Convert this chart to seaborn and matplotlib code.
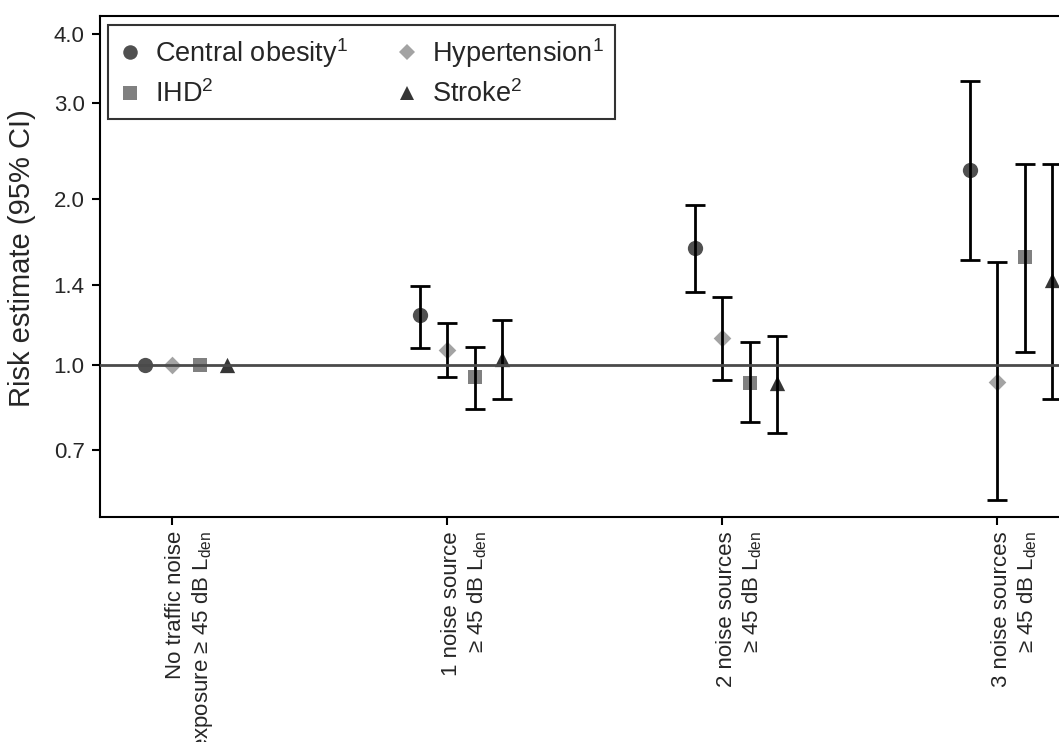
#! /usr/bin/env python3
'''
Risk estimates by number of traffic noise sources
'''

# imports
from matplotlib.lines import Line2D
import matplotlib.pyplot as plt
import numpy as np
import pandas as pd
import seaborn as sns

# data
GROUPS = [
    'No traffic noise\nexposure \u2265 45 dB L$_{\\mathrm{den}}$',
    '1 noise source\n\u2265 45 dB L$_{\\mathrm{den}}$',
    '2 noise sources\n\u2265 45 dB L$_{\\mathrm{den}}$',
    '3 noise sources\n\u2265 45 dB L$_{\\mathrm{den}}$',
]
OUTCOMES = ['Central obesity', 'Hypertension', 'IHD', 'Stroke']
nan = np.nan
central_obesity = [1.00, 1.23, 1.63, 2.26]
central_obesity_lo = [nan, 1.075, 1.356, 1.552]
central_obesity_hi = [nan, 1.394, 1.954, 3.289]
hypertension = [1.00, 1.065, 1.118, 0.932]
hypertension_lo = [nan, 0.950, 0.939, 0.567]
hypertension_hi = [nan, 1.191, 1.329, 1.539]
ihd = [1.00, 0.952, 0.929, 1.570]
ihd_lo = [nan, 0.831, 0.789, 1.057]
ihd_hi = [nan, 1.078, 1.100, 2.320]
stroke = [1.00, 1.025, 0.927, 1.427]
stroke_lo = [nan, 0.867, 0.752, 0.867]
stroke_hi = [nan, 1.209, 1.129, 2.320]
Y_TICKS = [0.7, 1.0, 1.4, 2.0, 3.0, 4.0]

# styles
LABEL = {
    'Central obesity': 'Central obesity$^{1}$',
    'Hypertension': 'Hypertension$^{1}$',
    'IHD': 'IHD$^{2}$',
    'Stroke': 'Stroke$^{2}$',
}
COLOR = {'Central obesity': '#505050', 'Hypertension': '#a3a3a3', 'IHD': '#808080', 'Stroke': '#363636'}
MARKER = {'Central obesity': 'o', 'Hypertension': 'D', 'IHD': 's', 'Stroke': '^'}
SIZE = {'Central obesity': 11, 'Hypertension': 9, 'IHD': 10.5, 'Stroke': 11}
OFFSET = {'Central obesity': -0.1, 'Hypertension': 0.0, 'IHD': 0.1, 'Stroke': 0.2}
LABEL_SHIFT = 0.065  # x tick labels sit a little right of their tick

# configure matplotlib
sns.set_style('ticks')
plt.rcParams['font.family'] = ['Liberation Sans', 'DejaVu Sans']
plt.rcParams['mathtext.fontset'] = 'custom'
plt.rcParams['mathtext.rm'] = 'Liberation Sans'
plt.rcParams['mathtext.it'] = 'Liberation Sans:italic'

if __name__ == "__main__":
    # long table
    series = {
        'Central obesity': (central_obesity, central_obesity_lo, central_obesity_hi),
        'Hypertension': (hypertension, hypertension_lo, hypertension_hi),
        'IHD': (ihd, ihd_lo, ihd_hi),
        'Stroke': (stroke, stroke_lo, stroke_hi),
    }
    rows = list()
    for name in OUTCOMES:
        est, lo, hi = series[name]
        for g in range(len(GROUPS)):
            rows.append({'outcome': name, 'x': g + OFFSET[name], 'est': est[g], 'lo': lo[g], 'hi': hi[g]})
    df = pd.DataFrame(rows)

    fig = plt.figure(figsize=(10.59, 7.42), dpi=100)
    W, H = 1059, 742
    xmin, xmax = -0.262, 3.4
    ax = fig.add_axes([100 / W, (H - 517) / H, (xmax - xmin) * 275 / W, 501 / H])

    for name in OUTCOMES:
        sub = df[df['outcome'] == name]
        sns.scatterplot(data=sub, x='x', y='est', ax=ax, color=COLOR[name], marker=MARKER[name],
                        s=SIZE[name] ** 2, linewidth=0, zorder=3, legend=False)
        ax.errorbar(sub['x'], sub['est'], yerr=[sub['est'] - sub['lo'], sub['hi'] - sub['est']],
                    fmt='none', ecolor='black', elinewidth=2, capsize=7, capthick=2, zorder=4)
    ax.axhline(1.0, color='#4a4a4a', linewidth=2, zorder=5)

    ax.set_yscale('log')
    ax.set_ylim(0.529, 4.31)
    ax.set_xlim(xmin, xmax)
    ax.set_yticks(Y_TICKS)
    ax.set_yticklabels([f'{v:.1f}' for v in Y_TICKS], fontsize=16)
    ax.yaxis.set_minor_locator(plt.NullLocator())
    # major ticks carry the marks, minor ticks (no marks) carry the labels
    ax.set_xticks(range(len(GROUPS)))
    ax.set_xticklabels([''] * len(GROUPS))
    ax.set_xticks([g + LABEL_SHIFT for g in range(len(GROUPS))], minor=True)
    ax.set_xticklabels(GROUPS, minor=True, fontsize=16, rotation=90, ha='center', va='top',
                       multialignment='right')
    ax.tick_params(length=6, width=1.5, color='black')
    ax.tick_params(axis='x', which='minor', length=0, pad=10)
    ax.tick_params(axis='y', pad=5)
    ax.set_xlabel('')
    ax.set_ylabel('Risk estimate (95% CI)', fontsize=21)
    ax.yaxis.set_label_coords(-0.064, 0.516)
    for s in ax.spines.values():
        s.set_linewidth(1.5); s.set_color('black')

    # legend
    handles = list()
    for name in ['Central obesity', 'IHD', 'Hypertension', 'Stroke']:
        handles.append(Line2D([0], [0], color=COLOR[name], marker=MARKER[name], linestyle='none',
                              markersize=SIZE[name] * 0.95, markeredgewidth=0, label=LABEL[name]))
    leg = ax.legend(handles=handles, ncol=2, loc='upper left', bbox_to_anchor=(108 / W, 1 - 25 / H),
                    bbox_transform=fig.transFigure, fontsize=19.5, frameon=True, fancybox=False,
                    borderpad=0.4, labelspacing=0.4, handlelength=0.8, handletextpad=0.55,
                    columnspacing=1.75, borderaxespad=0)
    leg.get_frame().set_edgecolor('black')
    leg.get_frame().set_linewidth(1.5)

    fig.savefig('out.png', dpi=100)
